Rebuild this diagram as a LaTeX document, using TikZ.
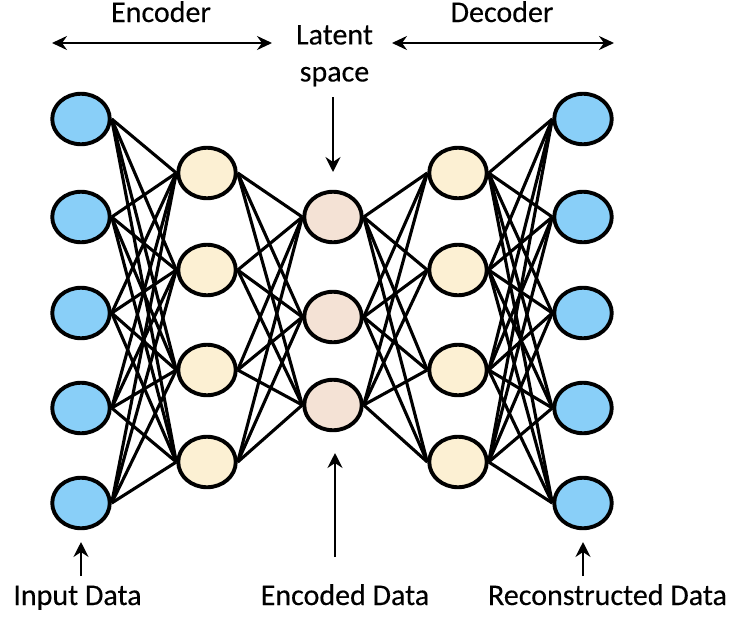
\documentclass[tikz,border=0pt]{standalone}
\usepackage{fontspec}
\setmainfont{Carlito}[FakeBold=0.3]
\usetikzlibrary{shapes.geometric, arrows.meta, backgrounds}

\definecolor{inblue}{RGB}{137,207,248}
\definecolor{hidcream}{RGB}{252,240,211}
\definecolor{latpink}{RGB}{244,226,213}

\begin{document}
\begin{tikzpicture}[x=1pt, y=-1pt,
  neuron/.style={ellipse, draw=black, line width=3.9pt,
    minimum width=57.5pt, minimum height=50.5pt, inner sep=0pt},
  inputn/.style={neuron, fill=inblue},
  hiddenn/.style={neuron, fill=hidcream},
  latentn/.style={neuron, fill=latpink},
  link/.style={line width=3.1pt, black},
  pointer/.style={line width=2.2pt, -{Stealth[length=15pt, width=15pt, inset=5pt]}},
  span/.style={line width=2.2pt,
    {Stealth[length=15pt, width=14pt, inset=5pt]}-{Stealth[length=15pt, width=14pt, inset=5pt]}},
  caption/.style={font=\fontsize{30}{37}\selectfont, inner sep=0pt}
]
\useasboundingbox (0,0) rectangle (734,619);

% layers of neurons
\foreach \i/\y in {1/119,2/217,3/313,4/408,5/503}
  \node[inputn] (a\i) at (81,\y) {};
\foreach \i/\y in {1/173,2/270,3/370,4/462}
  \node[hiddenn] (b\i) at (207,\y) {};
\foreach \i/\y in {1/217,2/317,3/405}
  \node[latentn] (c\i) at (333,\y) {};
\foreach \i/\y in {1/173,2/270,3/370,4/462}
  \node[hiddenn] (d\i) at (458,\y) {};
\foreach \i/\y in {1/119,2/217,3/313,4/408,5/503}
  \node[inputn] (e\i) at (583,\y) {};

% fully connected weights, behind the neurons
\begin{scope}[on background layer]
  \foreach \i in {1,...,5} \foreach \j in {1,...,4}
    \draw[link] (a\i.east) -- (b\j.west);
  \foreach \i in {1,...,4} \foreach \j in {1,...,3}
    \draw[link] (b\i.east) -- (c\j.west);
  \foreach \i in {1,...,3} \foreach \j in {1,...,4}
    \draw[link] (c\i.east) -- (d\j.west);
  \foreach \i in {1,...,4} \foreach \j in {1,...,5}
    \draw[link] (d\i.east) -- (e\j.west);
\end{scope}

% top labels and spans
\node[caption, anchor=base] (enc) at (161,22) {Encoder};
\node[caption, anchor=base] (dec) at (502,22) {Decoder};
\coordinate (encL) at (52,43);
\coordinate (encR) at (272,43);
\coordinate (decL) at (392,43);
\coordinate (decR) at (614,43);
\draw[span] (encL) -- (encR);
\draw[span] (decL) -- (decR);

\node[caption, align=center, anchor=north] (latent) at (334.5,25) {Latent\\space};
\coordinate (latTop) at (333,97);
\coordinate (latTip) at (333,172);
\draw[pointer] (latTop) -- (latTip);

% bottom labels
\node[caption, anchor=base] (inp) at (77.5,605) {Input Data};
\node[caption, anchor=base] (encd) at (345,605) {Encoded Data};
\node[caption, anchor=base] (rec) at (607.5,605) {Reconstructed Data};

\coordinate (inpFoot) at (81,576);
\coordinate (inpTip) at (81,542);
\coordinate (encFoot) at (335,557);
\coordinate (encTip) at (335,453);
\coordinate (recFoot) at (583,576);
\coordinate (recTip) at (583,542);
\draw[pointer] (inpFoot) -- (inpTip);
\draw[pointer] (encFoot) -- (encTip);
\draw[pointer] (recFoot) -- (recTip);
\end{tikzpicture}
\end{document}
